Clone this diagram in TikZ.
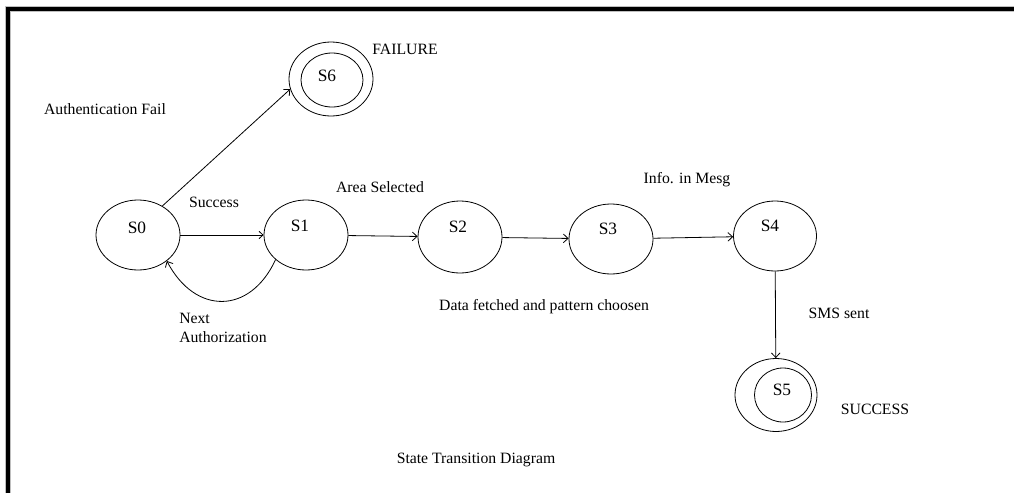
\documentclass[tikz,border=0pt]{standalone}
\usepackage{fontspec}
\setmainfont{Liberation Serif}
\usetikzlibrary{shapes.geometric, arrows.meta}
\begin{document}
\begin{tikzpicture}[x=0.75pt, y=-0.75pt,
		state/.style={ellipse, draw, line width=0.6pt, minimum width=63pt, minimum height=52.5pt, inner sep=0pt},
		lbl/.style={font=\fontsize{13}{15}\selectfont},
		txt/.style={font=\fontsize{11.8}{14}\selectfont, inner sep=0pt},
		arr/.style={line width=0.6pt, -{Straight Barb[length=3.5pt, width=6.5pt]}}]
		\useasboundingbox (0, 0) rectangle (1014, 493);
		\draw[gray!50, line width=4.5] (8, 493) -- (8, 9) -- (1014, 9);
		\draw[line width=2.4] (8, 493) -- (8, 9) -- (1014, 9);
		\node[state, label={[lbl, shift={(-1, -7)}]center:S0}] (s0) at (138, 235) {};
		\node[state, label={[lbl, shift={(-6, -9)}]center:S1}] (s1) at (306, 235) {};
		\node[state, minimum height=54pt, label={[lbl, shift={(-2, -10)}]center:S2}] (s2) at (460, 237) {};
		\node[state, label={[lbl, shift={(-3, -10)}]center:S3}] (s3) at (611, 239) {};
		\node[state, minimum width=62.25pt, label={[lbl, shift={(-5, -10)}]center:S4}] (s4) at (775, 236) {};
		\node[state, minimum width=61.5pt, minimum height=54.75pt] (s5) at (776, 395) {};
		\node[state, minimum width=42.75pt, minimum height=40.5pt, label={[lbl, shift={(-1, -5)}]center:S5}] (s5in) at (783, 395) {};
		\node[state, minimum width=63pt, minimum height=55.5pt] (s6) at (331, 79) {};
		\node[state, minimum width=46.5pt, minimum height=40.5pt, label={[lbl, shift={(-5, -4)}]center:S6}] (s6in) at (332, 80) {};
		\draw[arr] (s0.50) -- (s6.194);
		\draw[line width=0.6pt, -{Straight Barb[length=3pt, width=5.5pt]}] (s0) -- (s1);
		\draw[arr] (s1) -- (s2);
		\draw[arr] (s2) -- (s3);
		\draw[arr] (s3) -- (s4);
		\draw[arr] (s4) -- (s5);
		\draw[arr] (s1.219) .. controls (250, 315) and (195, 315) .. (s0.318);
		\node[txt] (fail) at (105, 109) {Authentication Fail};
		\node[txt] (failure) at (405, 49) {FAILURE};
		\node[txt] (succ) at (214, 202) {Success};
		\node[txt] (area) at (380, 187) {Area Selected};
		\node[txt] (info) at (687, 180) {Info. in Mesg};
		\node[txt] (data) at (544, 307) {Data fetched and pattern choosen};
		\node[txt, align=left, anchor=west] (next) at (179, 328) {Next\\Authorization};
		\node[txt] (sms) at (839, 313) {SMS sent};
		\node[txt] (success) at (875, 409) {SUCCESS};
		\node[txt] (title) at (476, 460) {State Transition Diagram};
	\end{tikzpicture}
\end{document}
